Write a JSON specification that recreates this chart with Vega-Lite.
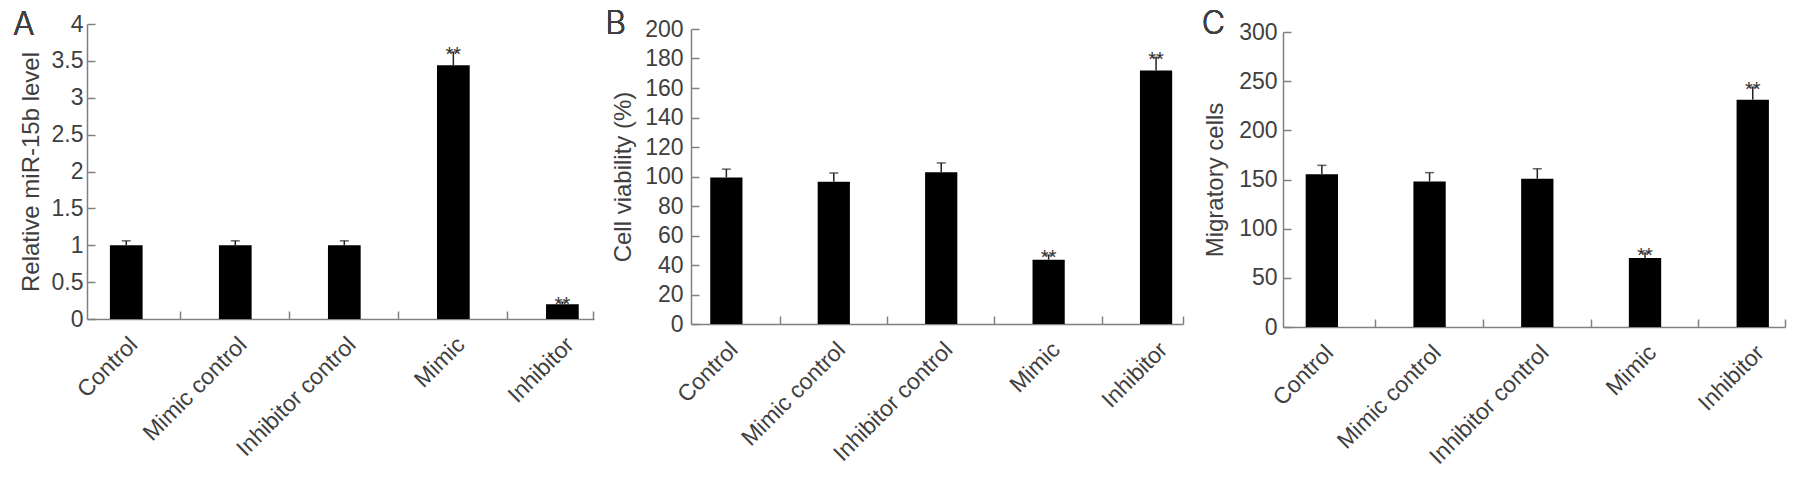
{
  "$schema": "https://vega.github.io/schema/vega-lite/v6.json",
  "padding": {"left": 12, "top": 8, "right": 5, "bottom": 5},
  "background": "white",
  "datasets": {
    "A": [
      {"group": "Control", "mean": 1.0, "upper": 1.06, "sig": ""},
      {"group": "Mimic control", "mean": 1.0, "upper": 1.06, "sig": ""},
      {"group": "Inhibitor control", "mean": 1.0, "upper": 1.06, "sig": ""},
      {"group": "Mimic", "mean": 3.44, "upper": 3.62, "sig": "**"},
      {"group": "Inhibitor", "mean": 0.2, "upper": 0.23, "sig": "**"}
    ],
    "B": [
      {"group": "Control", "mean": 99.4, "upper": 105.0, "sig": ""},
      {"group": "Mimic control", "mean": 96.5, "upper": 102.4, "sig": ""},
      {"group": "Inhibitor control", "mean": 102.8, "upper": 109.2, "sig": ""},
      {"group": "Mimic", "mean": 43.6, "upper": 46.8, "sig": "**"},
      {"group": "Inhibitor", "mean": 171.8, "upper": 180.8, "sig": "**"}
    ],
    "C": [
      {"group": "Control", "mean": 155.3, "upper": 164.4, "sig": ""},
      {"group": "Mimic control", "mean": 148.0, "upper": 157.0, "sig": ""},
      {"group": "Inhibitor control", "mean": 150.8, "upper": 161.0, "sig": ""},
      {"group": "Mimic", "mean": 70.2, "upper": 75.3, "sig": "**"},
      {"group": "Inhibitor", "mean": 231.2, "upper": 244.0, "sig": "**"}
    ]
  },
  "spacing": 11,
  "hconcat": [
    {
      "width": 507, "height": 295,
      "data": {"name": "A"},
      "resolve": {"axis": {"x": "independent", "y": "independent"}},
      "layer": [
        {"mark": {"type": "bar", "color": "#000000"},
         "encoding": {
           "x": {"field": "group", "type": "nominal", "sort": null,
                 "scale": {"domain": ["Control", "Mimic control", "Inhibitor control", "Mimic", "Inhibitor"], "paddingInner": 0.7, "paddingOuter": 0.175, "align": 0.6},
                 "axis": {"orient": "bottom", "title": null, "ticks": false, "tickSize": 0, "labelAngle": -45, "labelPadding": 14, "labelFontSize": 23}},
           "y": {"field": "mean", "type": "quantitative", "scale": {"domain": [0, 4]},
                 "axis": {"orient": "left", "title": "Relative miR-15b level", "values": [0, 0.5, 1, 1.5, 2, 2.5, 3, 3.5, 4], "format": "~g", "tickSize": -8, "labelPadding": 12, "titlePadding": 8}}
         }},
        {"mark": {"type": "rule", "color": "#222222", "strokeWidth": 1.5},
         "encoding": {
           "x": {"field": "group", "type": "nominal", "sort": null,
                 "axis": {"orient": "bottom", "title": null, "labels": false, "domain": false, "ticks": true, "tickSize": -8, "values": ["Control", "Mimic control", "Inhibitor control", "Mimic"], "bandPosition": 2.1667}},
           "y": {"field": "mean", "type": "quantitative", "axis": null},
           "y2": {"field": "upper"}
         }},
        {"mark": {"type": "tick", "orient": "horizontal", "size": 9, "thickness": 1.5, "color": "#222222"},
         "encoding": {
           "x": {"field": "group", "type": "nominal", "sort": null, "axis": null},
           "y": {"field": "upper", "type": "quantitative", "axis": null}
         }},
        {"mark": {"type": "text", "fontSize": 20, "dy": 9, "baseline": "alphabetic", "color": "#333333", "font": "Liberation Sans"},
         "encoding": {
           "x": {"field": "group", "type": "nominal", "sort": null,
                 "axis": {"orient": "bottom", "title": null, "labels": false, "domain": false, "ticks": true, "tickSize": -8, "values": ["Inhibitor"], "bandPosition": 1.4666}},
           "y": {"field": "upper", "type": "quantitative", "axis": null},
           "text": {"field": "sig"}
         }},
        {"mark": {"type": "text", "text": "A", "fontSize": 32, "font": "Inter", "fontWeight": 300, "align": "left", "baseline": "alphabetic", "color": "#3f3f3f", "dx": -97, "dy": 11},
         "encoding": {
           "x": {"datum": "Control", "type": "nominal", "bandPosition": 0, "axis": null},
           "y": {"datum": 4, "type": "quantitative", "axis": null}
         }}
      ]
    },
    {
      "spacing": 17,
      "hconcat": [
        {
          "width": 492, "height": 300,
          "data": {"name": "B"},
          "resolve": {"axis": {"x": "independent", "y": "independent"}},
          "layer": [
            {"mark": {"type": "bar", "color": "#000000"},
             "encoding": {
               "x": {"field": "group", "type": "nominal", "sort": null,
                     "scale": {"domain": ["Control", "Mimic control", "Inhibitor control", "Mimic", "Inhibitor"], "paddingInner": 0.7, "paddingOuter": 0.14, "align": 0.64},
                     "axis": {"orient": "bottom", "title": null, "ticks": false, "tickSize": 0, "labelAngle": -45, "labelPadding": 14, "labelFontSize": 23}},
               "y": {"field": "mean", "type": "quantitative", "scale": {"domain": [0, 200], "range": [300, 5]},
                     "axis": {"orient": "left", "title": "Cell viability (%)", "values": [0, 20, 40, 60, 80, 100, 120, 140, 160, 180, 200], "tickSize": -8, "labelPadding": 16, "titlePadding": 9}}
             }},
            {"mark": {"type": "rule", "color": "#222222", "strokeWidth": 1.5},
             "encoding": {
               "x": {"field": "group", "type": "nominal", "sort": null,
                     "axis": {"orient": "bottom", "title": null, "labels": false, "domain": false, "ticks": true, "tickSize": -8, "values": ["Control", "Mimic control", "Inhibitor control", "Mimic"], "bandPosition": 2.1667}},
               "y": {"field": "mean", "type": "quantitative", "axis": null},
               "y2": {"field": "upper"}
             }},
            {"mark": {"type": "tick", "orient": "horizontal", "size": 9, "thickness": 1.5, "color": "#222222"},
             "encoding": {
               "x": {"field": "group", "type": "nominal", "sort": null, "axis": null},
               "y": {"field": "upper", "type": "quantitative", "axis": null}
             }},
            {"mark": {"type": "text", "fontSize": 20, "dy": 9, "baseline": "alphabetic", "color": "#333333", "font": "Liberation Sans"},
             "encoding": {
               "x": {"field": "group", "type": "nominal", "sort": null,
                     "axis": {"orient": "bottom", "title": null, "labels": false, "domain": false, "ticks": true, "tickSize": -8, "values": ["Inhibitor"], "bandPosition": 1.336}},
               "y": {"field": "upper", "type": "quantitative", "axis": null},
               "text": {"field": "sig"}
             }},
            {"mark": {"type": "text", "text": "B", "fontSize": 32, "font": "Inter", "fontWeight": 300, "align": "left", "baseline": "alphabetic", "color": "#3f3f3f", "dx": -105, "dy": 5},
             "encoding": {
               "x": {"datum": "Control", "type": "nominal", "bandPosition": 0, "axis": null},
               "y": {"datum": 200, "type": "quantitative", "axis": null}
             }}
          ]
        },
        {
          "width": 502, "height": 303,
          "data": {"name": "C"},
          "resolve": {"axis": {"x": "independent", "y": "independent"}},
          "layer": [
            {"mark": {"type": "bar", "color": "#000000"},
             "encoding": {
               "x": {"field": "group", "type": "nominal", "sort": null,
                     "scale": {"domain": ["Control", "Mimic control", "Inhibitor control", "Mimic", "Inhibitor"], "paddingInner": 0.7, "paddingOuter": 0.18, "align": 0.585},
                     "axis": {"orient": "bottom", "title": null, "ticks": false, "tickSize": 0, "labelAngle": -45, "labelPadding": 14, "labelFontSize": 23}},
               "y": {"field": "mean", "type": "quantitative", "scale": {"domain": [0, 300], "range": [303, 8]},
                     "axis": {"orient": "left", "title": "Migratory cells", "values": [0, 50, 100, 150, 200, 250, 300], "tickSize": -8, "labelPadding": 14, "titlePadding": 11}}
             }},
            {"mark": {"type": "rule", "color": "#222222", "strokeWidth": 1.5},
             "encoding": {
               "x": {"field": "group", "type": "nominal", "sort": null,
                     "axis": {"orient": "bottom", "title": null, "labels": false, "domain": false, "ticks": true, "tickSize": -8, "values": ["Control", "Mimic control", "Inhibitor control", "Mimic"], "bandPosition": 2.1667}},
               "y": {"field": "mean", "type": "quantitative", "axis": null},
               "y2": {"field": "upper"}
             }},
            {"mark": {"type": "tick", "orient": "horizontal", "size": 9, "thickness": 1.5, "color": "#222222"},
             "encoding": {
               "x": {"field": "group", "type": "nominal", "sort": null, "axis": null},
               "y": {"field": "upper", "type": "quantitative", "axis": null}
             }},
            {"mark": {"type": "text", "fontSize": 20, "dy": 9, "baseline": "alphabetic", "color": "#333333", "font": "Liberation Sans"},
             "encoding": {
               "x": {"field": "group", "type": "nominal", "sort": null,
                     "axis": {"orient": "bottom", "title": null, "labels": false, "domain": false, "ticks": true, "tickSize": -8, "values": ["Inhibitor"], "bandPosition": 1.498}},
               "y": {"field": "upper", "type": "quantitative", "axis": null},
               "text": {"field": "sig"}
             }},
            {"mark": {"type": "text", "text": "C", "fontSize": 32, "font": "Inter", "fontWeight": 300, "align": "left", "baseline": "alphabetic", "color": "#3f3f3f", "dx": -104, "dy": 2},
             "encoding": {
               "x": {"datum": "Control", "type": "nominal", "bandPosition": 0, "axis": null},
               "y": {"datum": 300, "type": "quantitative", "axis": null}
             }}
          ]
        }
      ]
    }
  ],
  "config": {
    "view": {"stroke": null},
    "axis": {
      "grid": false,
      "labelFont": "Liberation Sans", "labelFontSize": 23, "labelColor": "#3f3f3f",
      "titleFont": "Liberation Sans", "titleFontSize": 24, "titleFontWeight": "normal", "titleColor": "#3f3f3f",
      "domainColor": "#808080", "domainWidth": 1.5, "tickColor": "#808080", "tickWidth": 1.5
    }
  }
}
